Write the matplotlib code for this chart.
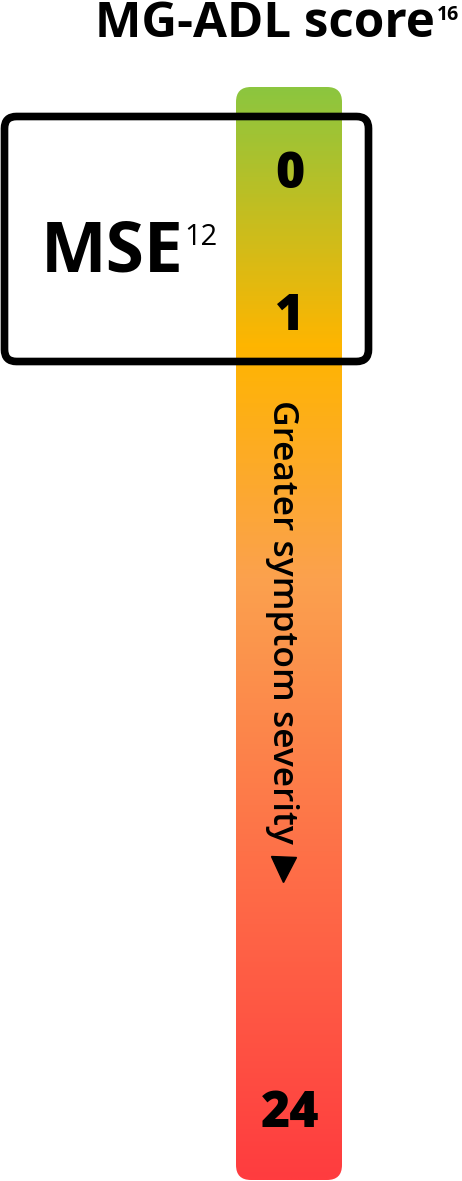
import matplotlib
matplotlib.use("Agg")
import matplotlib.pyplot as plt
import numpy as np
from matplotlib.colors import LinearSegmentedColormap
from matplotlib.patches import FancyBboxPatch

plt.rcParams['font.family'] = ['Open Sans', 'DejaVu Sans']

# chart content
title_text = "MG-ADL score"
title_ref = "16"
box_label = "MSE"
box_ref = "12"
scale_labels = ["0", "1", "24"]
axis_note = "Greater symptom severity"

# gradient of the bar, top (0) to bottom (1)
grad_stops = [0.0, 0.236, 0.45, 0.70, 1.0]
grad_colors = ["#8CC63F", "#FFB500", "#FBA14E", "#FE7148", "#FF3C3F"]

W, H = 462, 1181
fig = plt.figure(figsize=(W / 100, H / 100), dpi=100)
ax = fig.add_axes([0, 0, 1, 1])
ax.set_xlim(0, W)
ax.set_ylim(H, 0)
ax.axis("off")

# gradient bar
bar_x0, bar_x1, bar_y0, bar_y1 = 236, 342, 87, 1180
cmap = LinearSegmentedColormap.from_list("sev", list(zip(grad_stops, grad_colors)))
grad = np.linspace(0, 1, 512).reshape(-1, 1)
im = ax.imshow(grad, cmap=cmap, aspect="auto",
               extent=[bar_x0, bar_x1, bar_y1, bar_y0], zorder=1)
bar_patch = FancyBboxPatch((bar_x0, bar_y0), bar_x1 - bar_x0, bar_y1 - bar_y0,
                           boxstyle="round,pad=0,rounding_size=15",
                           facecolor="none", edgecolor="none")
ax.add_patch(bar_patch)
im.set_clip_path(bar_patch)
ax.set_xlim(0, W)
ax.set_ylim(H, 0)

# MSE box
box = FancyBboxPatch((4.5, 116.5), 364, 245,
                     boxstyle="round,pad=0,rounding_size=12",
                     facecolor="none", edgecolor="black", linewidth=5.5, zorder=3)
ax.add_patch(box)

# title
ax.text(435, 37, title_text, ha="right", va="baseline", fontsize=35.5,
        fontweight="bold", color="black")
ax.text(437, 20, title_ref, ha="left", va="baseline", fontsize=14,
        fontweight="bold", color="black")

# box label
ax.text(41, 272, box_label, ha="left", va="baseline", fontsize=50,
        fontweight="bold", color="black")
ax.text(184, 245, box_ref, ha="left", va="baseline", fontsize=21,
        color="black")

# scale numbers
for lab, yb in zip(scale_labels, [188, 330, 1127]):
    ax.text(290, yb, lab, ha="center", va="baseline", fontsize=36,
            fontweight="heavy", color="black", zorder=4)

# rotated note and arrow
ax.text(282, 622, axis_note, ha="center", va="center", rotation=-90,
        fontsize=25.5, fontweight="semibold", color="black", zorder=4)
ax.plot([283], [869], marker="v", markersize=18, color="black", zorder=4)

fig.savefig("out.png", dpi=100)
